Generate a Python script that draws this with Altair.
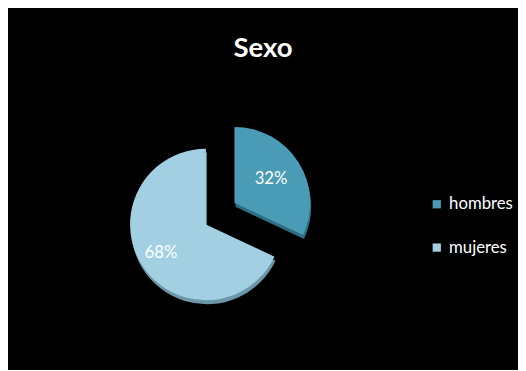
import altair as alt
import pandas as pd

categories = ["hombres", "mujeres"]
values = [32, 68]
labels = ["32%", "68%"]
colors = ["#4a9bb5", "#a3cfe2"]
shadow_colors = ["#2d6e83", "#6c97a8"]

df = pd.DataFrame({"sexo": categories, "valor": values, "etiqueta": labels})

R = 77
C_MUJ = (201, 152)
C_HOM = (230, 130)

base = alt.Chart(df).encode(
    theta=alt.Theta("valor:Q", stack=True, scale=alt.Scale(domain=[0, 100])),
    order=alt.Order("sexo:N", sort="ascending"),
)

color_enc = alt.Color(
    "sexo:N",
    scale=alt.Scale(domain=categories, range=colors),
    legend=alt.Legend(
        title=None, orient="none", legendX=427, legendY=123,
        symbolType="square", symbolSize=70, symbolStrokeWidth=0,
        labelColor="white", labelFont="Lato", labelFontSize=17,
        rowPadding=26, labelOffset=4,
    ),
)

def op(cat):
    return alt.condition(alt.datum.sexo == cat, alt.value(1), alt.value(0))

layers = []
for cat, (cx, cy) in [("mujeres", C_MUJ), ("hombres", C_HOM)]:
    sc = shadow_colors[categories.index(cat)]
    layers.append(
        base.mark_arc(radius=R, strokeWidth=0, color=sc).encode(
            x=alt.value(cx + 1), y=alt.value(cy + 4), opacity=op(cat)
        )
    )
    layers.append(
        base.mark_arc(radius=R, strokeWidth=0).encode(
            x=alt.value(cx), y=alt.value(cy), color=color_enc, opacity=op(cat)
        )
    )

text_m = base.mark_text(radius=54, font="Lato", fontSize=17, color="white").encode(
    x=alt.value(C_MUJ[0]), y=alt.value(C_MUJ[1]), text="etiqueta:N", opacity=op("mujeres")
)
text_h = base.mark_text(radius=44, font="Lato", fontSize=17, color="white").encode(
    x=alt.value(C_HOM[0]), y=alt.value(C_HOM[1]), text="etiqueta:N", opacity=op("hombres")
)

chart = alt.layer(*layers, text_m, text_h).properties(
    width=518, height=297,
    padding={"top": 25, "left": 0, "right": 0, "bottom": 0},
    background="black",
    title=alt.TitleParams("Sexo", font="Lato", fontSize=28, fontWeight="bold",
                          color="white", anchor="middle", offset=12),
).configure_view(stroke=None)

chart.save("out.html", embed_options={"renderer": "svg", "actions": False})
